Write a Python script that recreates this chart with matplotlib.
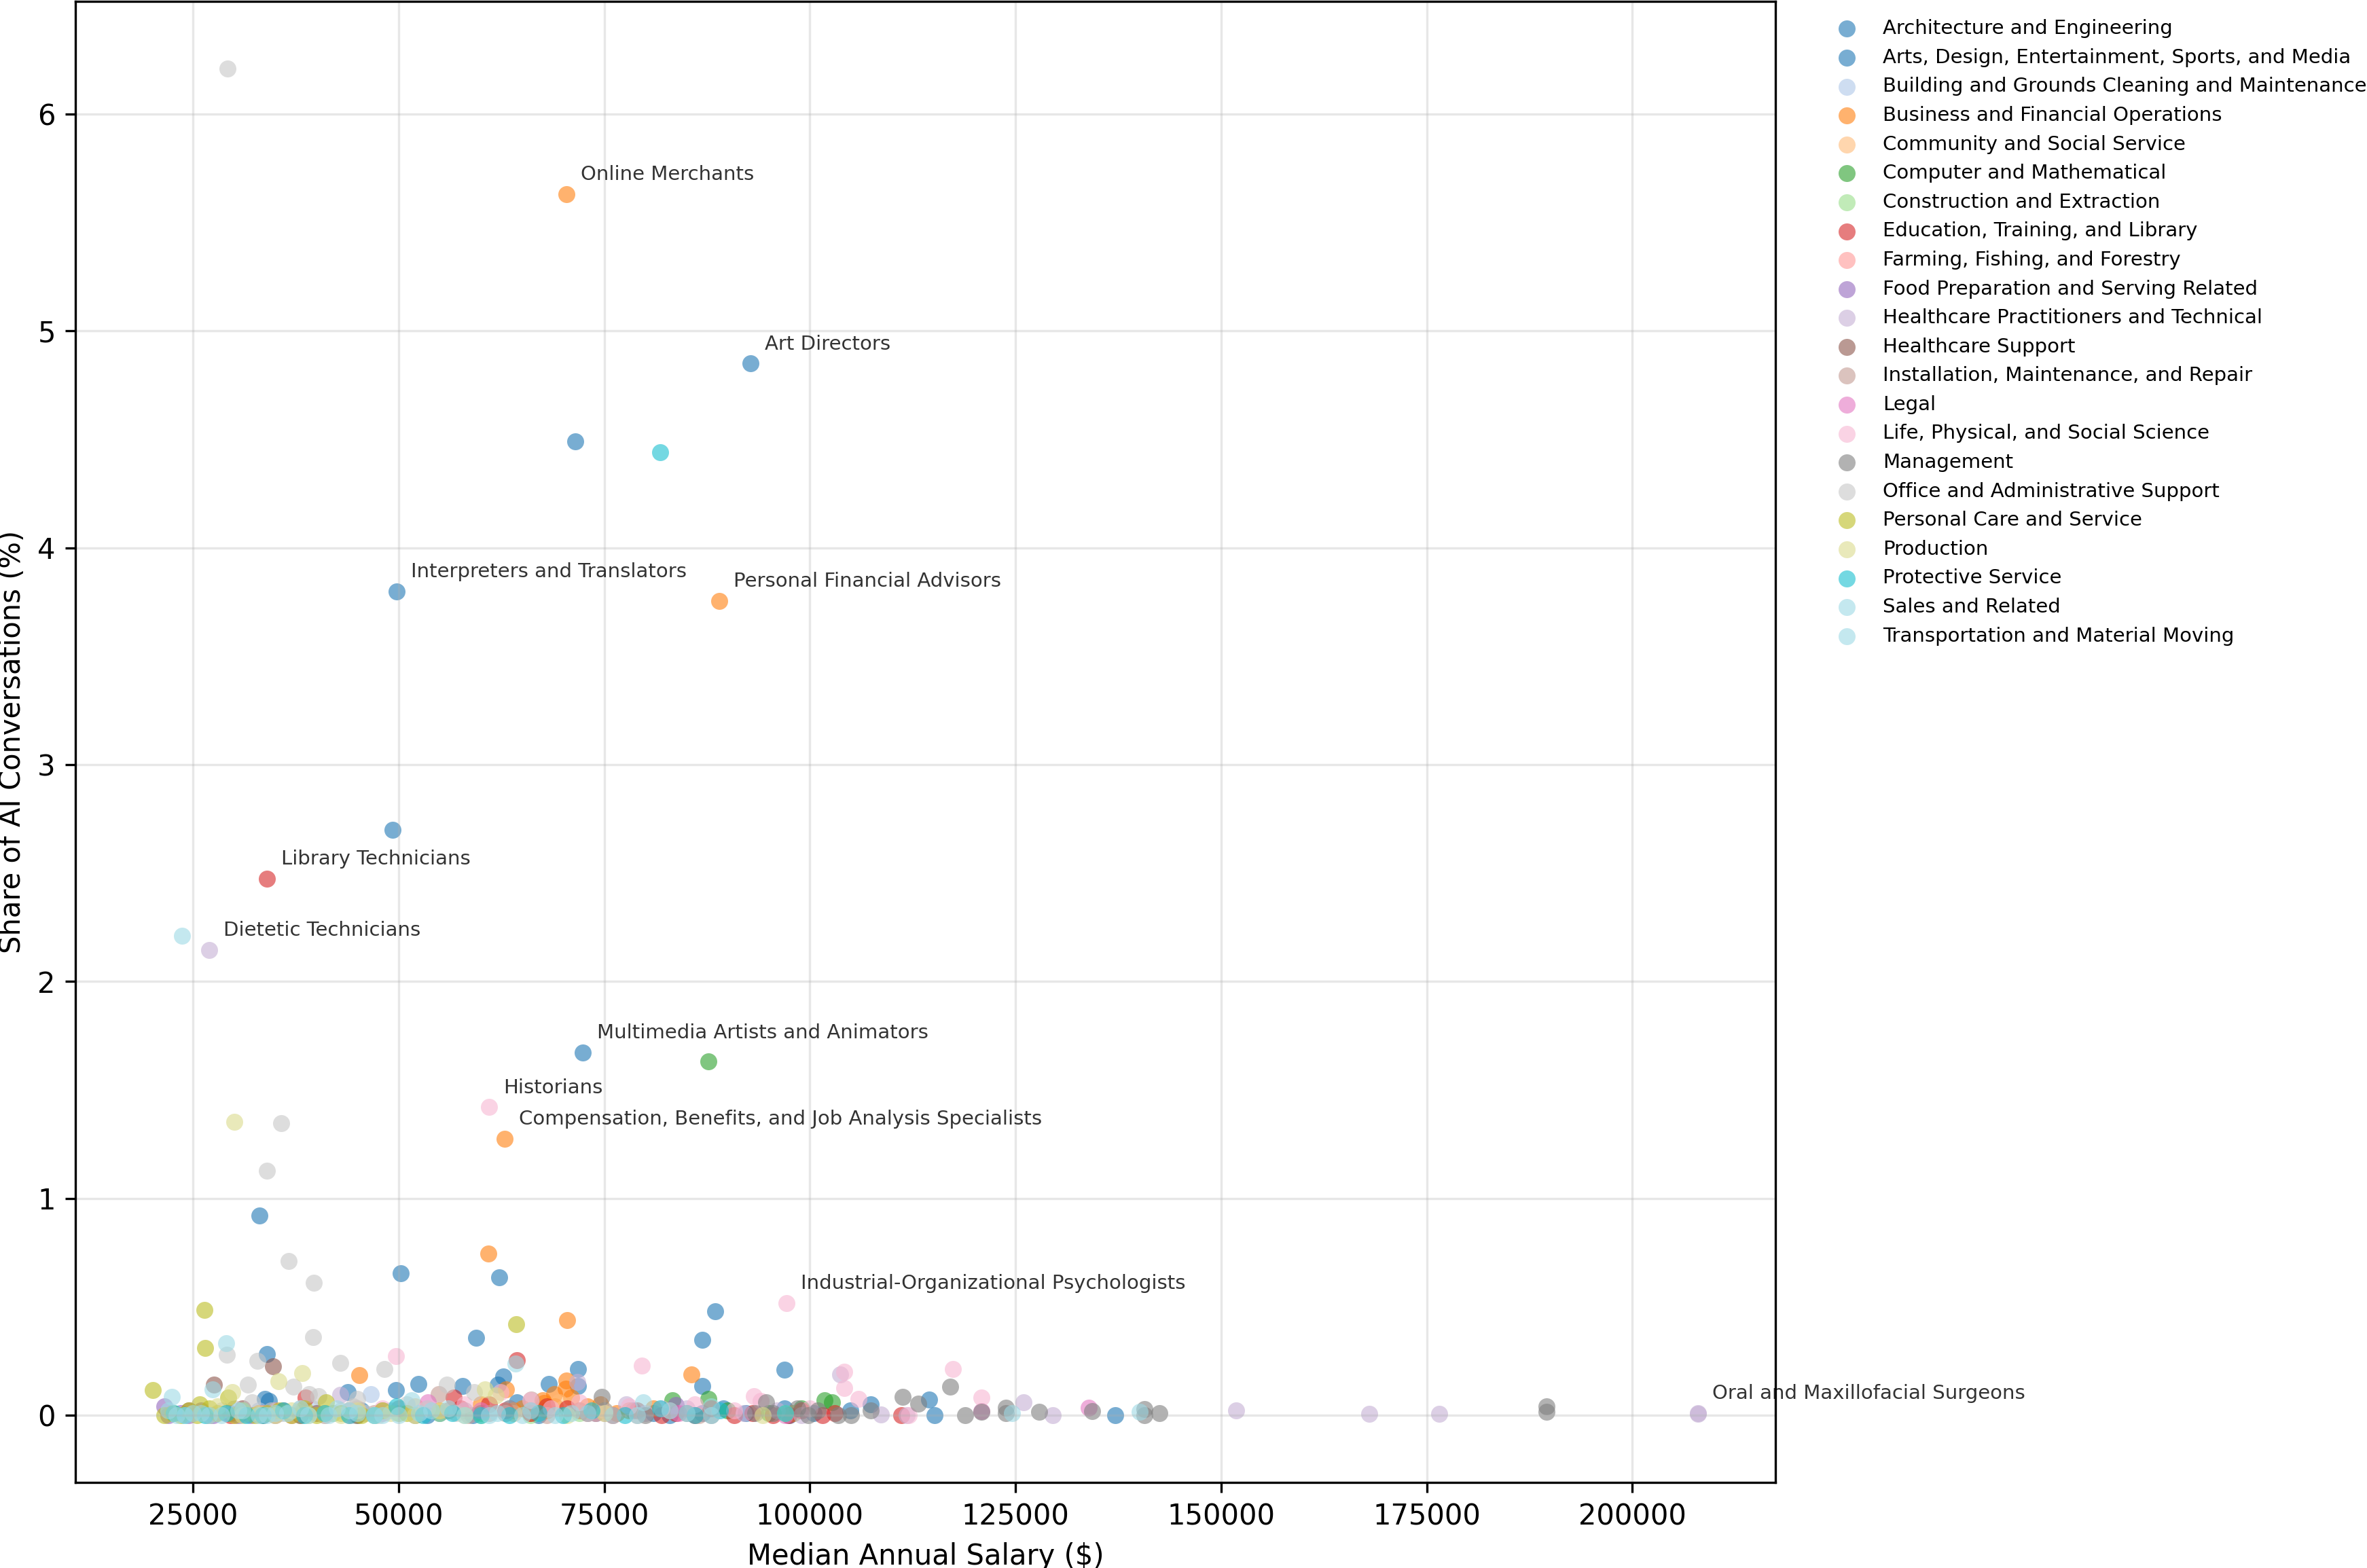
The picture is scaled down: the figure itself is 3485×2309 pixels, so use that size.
import numpy as np
import matplotlib.pyplot as plt

# occupation groups (legend order)
categories = [
    'Architecture and Engineering',
    'Arts, Design, Entertainment, Sports, and Media',
    'Building and Grounds Cleaning and Maintenance',
    'Business and Financial Operations',
    'Community and Social Service',
    'Computer and Mathematical',
    'Construction and Extraction',
    'Education, Training, and Library',
    'Farming, Fishing, and Forestry',
    'Food Preparation and Serving Related',
    'Healthcare Practitioners and Technical',
    'Healthcare Support',
    'Installation, Maintenance, and Repair',
    'Legal',
    'Life, Physical, and Social Science',
    'Management',
    'Office and Administrative Support',
    'Personal Care and Service',
    'Production',
    'Protective Service',
    'Sales and Related',
    'Transportation and Material Moving',
]

# (median annual salary, share of AI conversations %) per occupation
arch_eng = [(43800, 0.107), (49700, 0.114), (52400, 0.144), (57800, 0.133), (62100, 0.141),
            (62700, 0.178), (68300, 0.144), (71800, 0.135), (86900, 0.133), (96900, 0.03),
            (92200, 0.01), (86900, 0.01), (104900, 0.02), (107400, 0.05), (114500, 0.073),
            (115200, 0.0), (137100, 0.0), (78500, 0.02), (83000, 0.0), (74000, 0.01),
            (66000, 0.02), (59000, 0.0), (55000, 0.01), (100500, 0.01), (89500, 0.03),
            (97500, 0.0), (67000, 0.0), (64400, 0.06)]
arts = [(92800, 4.85), (71500, 4.49), (49800, 3.80), (49300, 2.70), (72400, 1.672),
        (33100, 0.92), (50300, 0.654), (62200, 0.636), (59400, 0.357), (88500, 0.479),
        (86900, 0.347), (96900, 0.209), (71800, 0.214), (34000, 0.281), (33750, 0.076),
        (34200, 0.066), (38000, 0.01), (45500, 0.02), (53500, 0.0), (63500, 0.03), (81000, 0.01)]
building = [(29500, 0.01), (31000, 0.0), (33000, 0.02), (35500, 0.01), (37000, 0.0),
            (39500, 0.03), (42000, 0.01), (46600, 0.097), (48000, 0.02), (44500, 0.0)]
business = [(70400, 5.63), (89000, 3.756), (62900, 1.275), (60900, 0.744), (70500, 0.438),
            (85600, 0.187), (45200, 0.184), (63100, 0.12), (70400, 0.158), (70300, 0.122),
            (68900, 0.096), (67700, 0.055), (55000, 0.02), (60000, 0.05), (65000, 0.03),
            (67500, 0.07), (69000, 0.04), (72000, 0.02), (74500, 0.05), (76500, 0.01),
            (78000, 0.02), (81000, 0.03), (66000, 0.01), (73000, 0.04), (68000, 0.02),
            (98000, 0.01), (71000, 0.08), (64000, 0.02)]
community = [(38000, 0.02), (41000, 0.01), (45000, 0.03), (48000, 0.02), (50000, 0.01),
             (52000, 0.04), (56000, 0.02), (60000, 0.03), (64000, 0.01), (69500, 0.06)]
computer = [(87700, 1.63), (87700, 0.076), (83300, 0.068), (101800, 0.069), (102700, 0.06),
            (90000, 0.02), (95000, 0.01), (99000, 0.03), (60000, 0.01), (75000, 0.02)]
construction = [(38000, 0.0), (42000, 0.01), (45000, 0.0), (48000, 0.02), (50000, 0.01),
                (52000, 0.0), (55000, 0.01), (58000, 0.02), (60000, 0.0), (63000, 0.01),
                (66000, 0.0), (72000, 0.01), (98000, 0.01)]
education = [(34000, 2.474), (64400, 0.253), (38700, 0.082), (56700, 0.081), (29500, 0.0),
             (33000, 0.01), (61000, 0.05), (57500, 0.03), (63000, 0.02), (66000, 0.01),
             (68000, 0.04), (70500, 0.03), (73000, 0.01), (76000, 0.0), (79000, 0.02),
             (82000, 0.0), (83700, 0.01), (86000, 0.0), (88000, 0.03), (90800, 0.0),
             (93000, 0.01), (95500, 0.0), (97400, 0.0), (99000, 0.02), (101500, 0.0),
             (103000, 0.01), (111100, 0.0)]
farming = [(30000, 0.0), (33500, 0.01), (35000, 0.02), (37000, 0.0), (41000, 0.01),
           (44000, 0.0), (74000, 0.01)]
food_prep = [(21500, 0.04), (22000, 0.0), (23500, 0.01), (24500, 0.0), (26000, 0.02),
             (27500, 0.0), (29000, 0.01), (30500, 0.0), (32000, 0.0), (34000, 0.01),
             (83700, 0.045)]
health_pract = [(27000, 2.146), (208000, 0.01), (208000, 0.005), (176500, 0.005), (168000, 0.005),
                (151800, 0.02), (129500, 0.0), (126000, 0.06), (111800, 0.0), (108600, 0.003),
                (103700, 0.187), (71700, 0.154), (42900, 0.092), (96000, 0.02), (80000, 0.01),
                (85000, 0.03), (58000, 0.02), (63000, 0.01), (77700, 0.05), (48000, 0.02),
                (38000, 0.01), (35000, 0.0), (92000, 0.01), (99000, 0.0)]
health_support = [(34750, 0.224), (27550, 0.14), (24500, 0.02), (27000, 0.0), (29500, 0.01),
                  (31000, 0.03), (33500, 0.0), (36000, 0.02), (38000, 0.0), (40000, 0.01),
                  (45000, 0.0)]
installation = [(54900, 0.097), (66100, 0.071), (35000, 0.0), (38000, 0.01), (41000, 0.0),
                (44000, 0.02), (47000, 0.01), (50000, 0.03), (52000, 0.0), (56000, 0.02),
                (58500, 0.0), (61000, 0.01), (63500, 0.03), (68000, 0.0), (72000, 0.02),
                (75000, 0.01), (79000, 0.0), (83000, 0.02), (86500, 0.0)]
legal = [(133900, 0.034), (120900, 0.019), (48000, 0.01), (53600, 0.06), (60000, 0.02),
         (84000, 0.01), (97000, 0.0)]
life_sci = [(61000, 1.42), (97200, 0.516), (79600, 0.227), (49700, 0.272), (104200, 0.2),
            (104200, 0.126), (105900, 0.076), (117400, 0.213), (120900, 0.081), (93200, 0.088),
            (94000, 0.066), (62400, 0.107), (44000, 0.01), (48000, 0.03), (53000, 0.02),
            (58000, 0.05), (66000, 0.07), (68500, 0.03), (72000, 0.06), (75000, 0.02),
            (78000, 0.04), (82000, 0.03), (86000, 0.05), (90800, 0.02), (100000, 0.03),
            (112000, 0.0)]
management = [(189600, 0.04), (189600, 0.015), (142500, 0.008), (140700, 0.029), (140700, 0.0),
              (134300, 0.017), (127900, 0.014), (123800, 0.034), (123800, 0.008), (120900, 0.014),
              (118900, 0.0), (117100, 0.131), (113200, 0.052), (111300, 0.084), (107400, 0.02),
              (103400, 0.0), (94700, 0.06), (74700, 0.083), (99800, 0.0), (101000, 0.02),
              (105000, 0.0), (98500, 0.03), (95500, 0.01), (93400, 0.01), (88000, 0.0),
              (85000, 0.01), (80000, 0.0)]
office = [(29200, 6.21), (35700, 1.345), (34000, 1.128), (36600, 0.711), (39700, 0.61),
          (39600, 0.359), (29100, 0.277), (32800, 0.249), (42900, 0.24), (48300, 0.214),
          (31700, 0.141), (37200, 0.131), (55900, 0.141), (32200, 0.06), (39100, 0.097),
          (40300, 0.088), (45000, 0.076), (59200, 0.107), (25000, 0.01), (27000, 0.0),
          (28500, 0.02), (30000, 0.03), (33000, 0.0), (34500, 0.02), (36000, 0.01),
          (38000, 0.03), (41000, 0.0), (43000, 0.02), (44500, 0.04), (46000, 0.01),
          (47500, 0.0), (49000, 0.02), (51000, 0.05), (53500, 0.03), (57000, 0.01)]
personal_care = [(26400, 0.485), (26500, 0.309), (64300, 0.419), (20100, 0.116), (29300, 0.081),
                 (41200, 0.06), (21500, 0.0), (22500, 0.01), (23500, 0.0), (24500, 0.02),
                 (25500, 0.0), (27000, 0.03), (28000, 0.01), (30000, 0.0), (31000, 0.02),
                 (32500, 0.0), (34000, 0.01), (35500, 0.02), (37000, 0.0), (38500, 0.03),
                 (40000, 0.0), (43000, 0.01), (45500, 0.0), (48000, 0.02), (51000, 0.01),
                 (25800, 0.05)]
production = [(30000, 1.352), (38300, 0.193), (35400, 0.157), (29800, 0.107), (60500, 0.12),
              (28000, 0.04), (31000, 0.0), (33000, 0.01), (35000, 0.0), (37000, 0.02),
              (39000, 0.0), (41000, 0.01), (43000, 0.0), (45000, 0.02), (47000, 0.0),
              (49000, 0.01), (52000, 0.0), (55000, 0.02), (58000, 0.0), (61800, 0.09),
              (70500, 0.0), (75000, 0.01), (94300, 0.0), (97000, 0.01)]
protective = [(81800, 4.44), (22700, 0.01), (24000, 0.0), (26500, 0.0), (29000, 0.01),
              (31500, 0.0), (33500, 0.0), (36000, 0.02), (38500, 0.0), (41000, 0.01),
              (44000, 0.0), (47000, 0.0), (49800, 0.04), (53000, 0.0), (56500, 0.01),
              (60000, 0.0), (63500, 0.0), (67000, 0.01), (70000, 0.0), (73500, 0.02),
              (77500, 0.0), (81800, 0.03), (86000, 0.0), (89100, 0.02), (97000, 0.01)]
sales = [(23700, 2.21), (29000, 0.333), (27400, 0.118), (22400, 0.083), (64200, 0.237),
         (51600, 0.07), (140100, 0.014), (124600, 0.008), (23000, 0.0), (25000, 0.01),
         (27000, 0.0), (30500, 0.02), (33000, 0.0), (35000, 0.01), (38000, 0.03),
         (41500, 0.0), (44000, 0.02), (48000, 0.0), (52500, 0.01), (56000, 0.03),
         (61000, 0.0), (66000, 0.02), (71000, 0.01), (76000, 0.0), (79700, 0.06),
         (85000, 0.01), (88000, 0.04)]
transport = [(22000, 0.02), (24000, 0.0), (26000, 0.01), (28500, 0.0), (31000, 0.02),
             (34000, 0.0), (36500, 0.01), (39000, 0.0), (42500, 0.03), (45000, 0.01),
             (47000, 0.0), (50000, 0.0), (54000, 0.02), (58000, 0.0), (62000, 0.01),
             (65000, 0.0), (69000, 0.0), (73000, 0.01), (79000, 0.0), (83000, 0.02),
             (88000, 0.0)]

series = [arch_eng, arts, building, business, community, computer, construction, education,
          farming, food_prep, health_pract, health_support, installation, legal, life_sci,
          management, office, personal_care, production, protective, sales, transport]

# labelled occupations: (name, series, index in that series)
annotations = [
    ('Online Merchants', business, 0),
    ('Art Directors', arts, 0),
    ('Interpreters and Translators', arts, 2),
    ('Personal Financial Advisors', business, 1),
    ('Library Technicians', education, 0),
    ('Dietetic Technicians', health_pract, 0),
    ('Multimedia Artists and Animators', arts, 4),
    ('Historians', life_sci, 0),
    ('Compensation, Benefits, and Job Analysis Specialists', business, 2),
    ('Industrial-Organizational Psychologists', life_sci, 1),
    ('Oral and Maxillofacial Surgeons', health_pract, 1),
]

colors = plt.cm.tab20(np.linspace(0, 1, len(categories)))

fig = plt.figure(figsize=(11.62, 7.697), dpi=300)
ax = fig.add_axes([111 / 3486, 126 / 2309, 2503 / 3486, 2181 / 2309])

for cat, pts, c in zip(categories, series, colors):
    xs = [p[0] for p in pts]
    ys = [p[1] for p in pts]
    ax.scatter(xs, ys, s=36, color=c, alpha=0.6, linewidths=0, label=cat)

for name, pts, i in annotations:
    ax.annotate(name, pts[i], xytext=(5, 5), textcoords='offset points',
                fontsize=7, alpha=0.8)

ax.set_xlabel('Median Annual Salary ($)')
ax.set_ylabel('Share of AI Conversations (%)')
ax.grid(True, alpha=0.3)
ax.legend(bbox_to_anchor=(1.02, 1), loc='upper left', fontsize=7, frameon=False)

fig.savefig('out.png', dpi=300)
